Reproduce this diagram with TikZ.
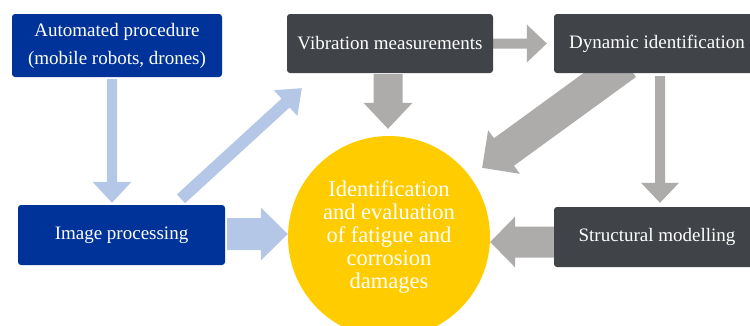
\documentclass[tikz,border=0pt]{standalone}
\usepackage{fontspec}
\setmainfont{Liberation Serif}
\usetikzlibrary{calc,backgrounds}
\definecolor{boxblue}{RGB}{0,51,153}
\definecolor{boxgray}{RGB}{64,67,71}
\definecolor{sun}{RGB}{255,204,0}
\definecolor{arrblue}{RGB}{180,199,231}
\definecolor{arrgray}{RGB}{174,171,171}
% start, tip, half shaft width, half head width, head length, colour
\newcommand\fatarrow[6]{%
  \fill[#6] let \p1=($(#2)-(#1)$), \n1={atan2(\y1,\x1)}, \n2={veclen(\x1,\y1)-#5} in
    ($(#1)+(\n1+90:#3)$) -- ($(#1)+(\n1:\n2)+(\n1+90:#3)$) -- ($(#1)+(\n1:\n2)+(\n1+90:#4)$)
    -- (#2) -- ($(#1)+(\n1:\n2)+(\n1-90:#4)$) -- ($(#1)+(\n1:\n2)+(\n1-90:#3)$)
    -- ($(#1)+(\n1-90:#3)$) -- cycle;}
\begin{document}
\begin{tikzpicture}[x=1pt,y=-1pt,
  box/.style={rounded corners=3pt, inner sep=0pt, text=white, align=center,
    font=\fontsize{19}{28}\selectfont},
  bluebox/.style={box, fill=boxblue},
  graybox/.style={box, fill=boxgray, minimum width=206pt, minimum height=59pt},
  goalcircle/.style={circle, fill=sun, inner sep=0pt, minimum size=202pt, text=white,
    align=center, font=\fontsize{22.5}{23.2}\selectfont}]
\useasboundingbox (0,0) rectangle (750,325);
\clip (0,0) rectangle (750,325);
\node[bluebox, minimum width=210pt, minimum height=63pt] (auto) at (117,45.5)
  {Automated procedure\\(mobile robots, drones)};
\node[graybox] (vib) at (390,43.5) {Vibration measurements};
\node[graybox] (dyn) at (657,43.5) {Dynamic identification};
\node[bluebox, minimum width=207pt, minimum height=60pt] (img) at (121.5,235) {Image processing};
\node[graybox, minimum height=60pt] (str) at (657,237) {Structural modelling};
\node[goalcircle] (goal) at (389,237)
  {Identification\\and evaluation\\of fatigue and\\corrosion\\damages};
\coordinate (a1s) at ($(auto.south)+(-5,2)$);
\coordinate (a1e) at ($(img.north)+(-9.5,-2)$);
\coordinate (a2s) at ($(img.north)+(59.5,-6)$);
\coordinate (a2e) at ($(vib.south west)+(15,15)$);
\coordinate (a3s) at ($(img.east)+(2,-1)$);
\coordinate (a3e) at (goal.west |- a3s);
\coordinate (a4s) at (vib.east);
\coordinate (a4e) at ($(dyn.west)+(-7,0)$);
\coordinate (a5s) at ($(vib.south)+(-2,1)$);
\coordinate (a5e) at ($(goal.north)+(-1,-7)$);
\coordinate (a6s) at ($(dyn.south)+(-31,-10)$);
\coordinate (a6e) at ($(goal.north east)+(21.6,2.4)$);
\coordinate (a7s) at ($(dyn.south)+(3,3)$);
\coordinate (a7e) at ($(str.north)+(3,-4)$);
\coordinate (a8s) at ($(str.west)+(1,5)$);
\coordinate (a8e) at ($(goal.east)+(0,5)$);
\begin{scope}[on background layer]
\fatarrow{a1s}{a1e}{5pt}{19.5pt}{21pt}{arrblue}
\fatarrow{a2s}{a2e}{6pt}{17.5pt}{22pt}{arrblue}
\fatarrow{a3s}{a3e}{16pt}{26.5pt}{27pt}{arrblue}
\fatarrow{a4s}{a4e}{5pt}{19pt}{20pt}{arrgray}
\fatarrow{a5s}{a5e}{14.5pt}{24.5pt}{26pt}{arrgray}
\fatarrow{a6s}{a6e}{17pt}{27pt}{27pt}{arrgray}
\fatarrow{a7s}{a7e}{5pt}{19pt}{20pt}{arrgray}
\fatarrow{a8s}{a8e}{15.5pt}{25.5pt}{25pt}{arrgray}
\end{scope}
\end{tikzpicture}
\end{document}
